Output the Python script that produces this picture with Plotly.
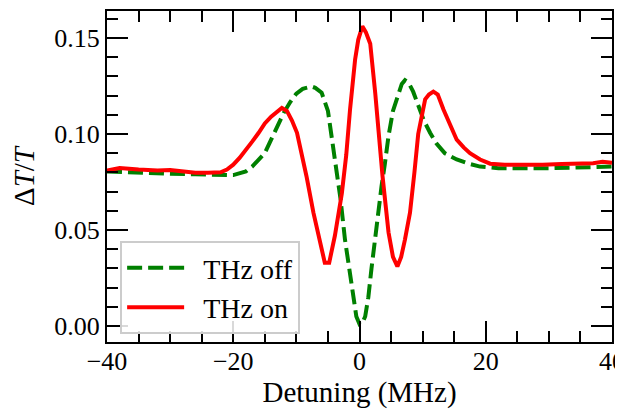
import plotly.graph_objects as go

x_off = [-40, -37, -34, -30, -26, -22, -20, -18, -17, -16, -15, -14, -13, -12, -11, -10, -9, -8, -7.6, -7, -6, -5,
         -4.4, -3.6, -3, -2.3, -1.6, -1, -0.5, 0, 0.5, 0.9, 1.4, 1.9, 2.5, 3, 3.5, 4, 4.6, 5.3, 6.1, 6.7, 7.2,
         7.8, 8.5, 9.3, 10.2, 11.2, 12.2, 13.5, 15.4, 17.3, 19.1, 22, 26, 30, 34, 37, 40]
y_off = [0.0805, 0.0800, 0.0795, 0.0793, 0.0790, 0.0786, 0.0786, 0.0805, 0.083, 0.0865, 0.090, 0.097, 0.1045,
         0.111, 0.1165, 0.121, 0.1235, 0.1245, 0.1247, 0.124, 0.1215, 0.112,
         0.099, 0.080, 0.066, 0.045, 0.028, 0.014, 0.005, 0.001, 0.002, 0.005, 0.015, 0.030, 0.047, 0.061, 0.073,
         0.084, 0.099, 0.112, 0.121, 0.126, 0.128,
         0.1265, 0.122, 0.115, 0.107, 0.1005, 0.095, 0.090, 0.0867, 0.0845, 0.083, 0.0822, 0.0820, 0.0822,
         0.0825, 0.0828, 0.0830]

x_on = [-40, -38, -35, -32, -30, -28, -26, -24, -22, -21, -20, -19, -18, -17, -16, -15, -14, -13, -12.3, -11.5,
        -10.7, -9.9, -9.2, -8.4, -7.3, -6.0, -5.5, -4.8, -3.9, -2.8, -2.1, -1.5, -0.7, -0.2, 0.45, 1.0, 1.7,
        2.5, 3.25, 3.65, 4.6, 5.3, 6.0, 6.6, 7.2, 8.0, 8.7, 9.3, 10.4, 11.0, 11.7, 12.4, 13.3, 14.3, 15.4, 16.5,
        17.5, 19.1, 20.7, 23, 26, 29, 32, 35, 37, 38.5, 40]
y_on = [0.0810, 0.0823, 0.0815, 0.0810, 0.0812, 0.0805, 0.0798, 0.0798, 0.0800, 0.0815, 0.084, 0.0875, 0.0915,
        0.096, 0.1005, 0.1055, 0.109, 0.112, 0.1135, 0.112,
        0.107, 0.1006, 0.091, 0.078, 0.059, 0.040, 0.033, 0.033, 0.047, 0.069, 0.089, 0.1127, 0.1386, 0.149,
        0.156, 0.153, 0.147,
        0.121, 0.092, 0.078, 0.0487, 0.036, 0.031, 0.036, 0.045, 0.059, 0.080, 0.100, 0.118, 0.1205, 0.122,
        0.1205, 0.1127, 0.105, 0.097, 0.093,
        0.090, 0.0867, 0.0845, 0.0840, 0.0838, 0.0840, 0.0843, 0.0845, 0.0848, 0.0855, 0.0850]

x_ticks = [-40, -20, 0, 20, 40]
x_ticklabels = ["\u221240", "\u221220", "0", "20", "40"]
y_ticks = [0.0, 0.05, 0.10, 0.15]
y_ticklabels = ["0.00", "0.05", "0.10", "0.15"]

FONT = "Liberation Serif"

fig = go.Figure()
fig.add_trace(go.Scatter(x=x_off, y=y_off, mode="lines", name="\u00a0\u00a0THz off",
                         line=dict(color="#008000", width=4, dash="15px,6px")))
fig.add_trace(go.Scatter(x=x_on, y=y_on, mode="lines", name="\u00a0\u00a0THz on",
                         line=dict(color="#ff0000", width=4)))

axis_common = dict(showline=True, linewidth=2, linecolor="black", mirror="allticks",
                   ticks="inside", ticklen=21, tickwidth=2, tickcolor="black",
                   showgrid=False, zeroline=False, ticklabeloverflow="allow",
                   tickfont=dict(family=FONT, size=26, color="black"))

fig.update_xaxes(range=[-40, 40], tickvals=x_ticks, ticktext=x_ticklabels,
                 minor=dict(dtick=5, ticks="inside", ticklen=11, tickwidth=2, tickcolor="black", showgrid=False),
                 title=dict(text="Detuning (MHz)", font=dict(family=FONT, size=29, color="black"), standoff=5),
                 ticklabelstandoff=-5,
                 **axis_common)
fig.update_yaxes(range=[-0.0083, 0.164], tickvals=y_ticks, ticktext=y_ticklabels,
                 minor=dict(dtick=0.01, ticks="inside", ticklen=11, tickwidth=2, tickcolor="black", showgrid=False),
                 title=dict(text="\u0394<i>T</i>/<i>T</i>", font=dict(family=FONT, size=29, color="black"), standoff=18),
                 ticklabelstandoff=0,
                 **axis_common)

# the page body adds an 8px offset; the figure is sized so it fills 623x414 on the page
fig.update_layout(
    width=615, height=406,
    margin=dict(l=99, r=11, t=3, b=72, autoexpand=False),
    paper_bgcolor="white", plot_bgcolor="white",
    font=dict(family=FONT, color="black"),
    legend=dict(x=0.026, y=0.305, xanchor="left", yanchor="top",
                bgcolor="rgba(255,255,255,0.85)", bordercolor="#cccccc", borderwidth=2,
                font=dict(family=FONT, size=28, color="black"),
                traceorder="normal", itemwidth=57),
    showlegend=True,
)

fig.write_html("out.html")
